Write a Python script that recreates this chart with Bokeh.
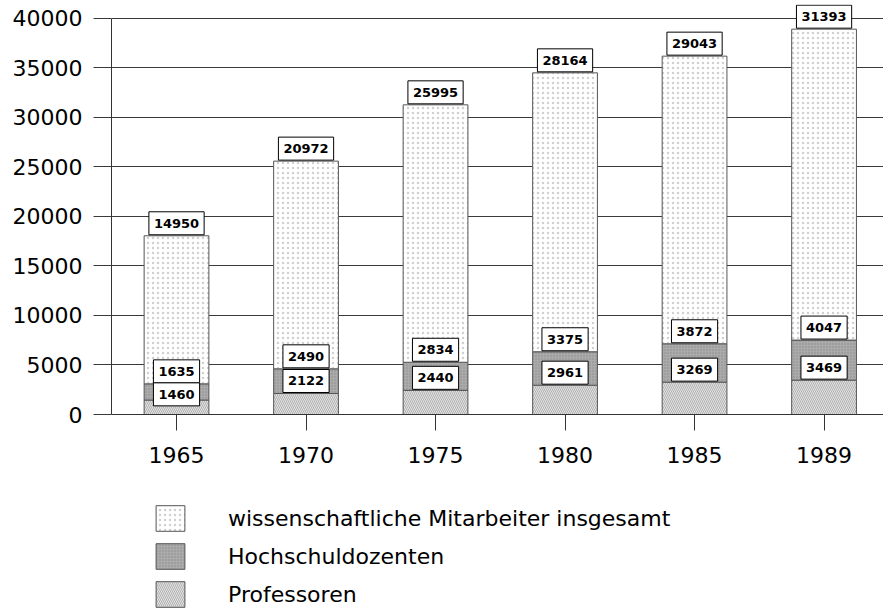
from bokeh.plotting import figure
from bokeh.layouts import column
from bokeh.models import Range1d, FixedTicker, Label, Legend, LegendItem, NumeralTickFormatter
from bokeh.embed import file_html
from bokeh.resources import INLINE

years = ["1965", "1970", "1975", "1980", "1985", "1989"]
professoren = [1460, 2122, 2440, 2961, 3269, 3469]
hochschuldozenten = [1635, 2490, 2834, 3375, 3872, 4047]
mitarbeiter = [14950, 20972, 25995, 28164, 29043, 31393]
y_ticks = [0, 5000, 10000, 15000, 20000, 25000, 30000, 35000, 40000]
series_names = ["wissenschaftliche Mitarbeiter insgesamt", "Hochschuldozenten", "Professoren"]

FONT = "DejaVu Sans"
xs = list(range(len(years)))
top_p = professoren
top_h = [a + b for a, b in zip(professoren, hochschuldozenten)]
top_m = [a + b for a, b in zip(top_h, mitarbeiter)]

STYLES = {
    "p": dict(fill_color="#e2e2e2", hatch_pattern="left_diagonal_line",
              hatch_color="#9c9c9c", hatch_scale=4, hatch_weight=0.7,
              line_color="#555555", line_width=1),
    "h": dict(fill_color="#ababab", hatch_pattern="dot",
              hatch_color="#8a8a8a", hatch_scale=3, hatch_weight=1,
              line_color="#555555", line_width=1),
    "m": dict(fill_color="white", hatch_pattern="dot",
              hatch_color="#d0d0d0", hatch_scale=5, hatch_weight=1,
              line_color="#555555", line_width=1),
}

p = figure(width=883, height=490,
           x_range=Range1d(-0.502, 5.459), y_range=Range1d(0, 41400),
           output_backend="svg", toolbar_location=None,
           min_border=0, min_border_left=111, min_border_top=4,
           min_border_bottom=76, min_border_right=0)
p.outline_line_color = None
p.background_fill_color = "white"

# grid
p.xgrid.visible = False
p.ygrid.ticker = FixedTicker(ticks=y_ticks)
p.ygrid.grid_line_color = "#3a3a3a"
p.ygrid.grid_line_width = 1

# axes
p.yaxis.ticker = FixedTicker(ticks=y_ticks)
p.yaxis.bounds = (y_ticks[0], y_ticks[-1])
p.yaxis.formatter = NumeralTickFormatter(format="0")
p.yaxis.major_tick_out = 18
p.yaxis.major_tick_in = 0
p.yaxis.minor_tick_line_color = None
p.yaxis.major_label_standoff = 11
p.yaxis.axis_line_color = "#333333"
p.yaxis.major_tick_line_color = "#3a3a3a"
p.yaxis.major_label_text_font = FONT
p.yaxis.major_label_text_font_size = "22px"
p.yaxis.major_label_text_color = "black"

p.xaxis.ticker = FixedTicker(ticks=xs)
p.xaxis.major_label_overrides = {i: y for i, y in enumerate(years)}
p.xaxis.major_tick_out = 16
p.xaxis.major_tick_in = 0
p.xaxis.minor_tick_line_color = None
p.xaxis.major_label_standoff = 16
p.xaxis.axis_line_color = "#333333"
p.xaxis.major_tick_line_color = "#333333"
p.xaxis.major_label_text_font = FONT
p.xaxis.major_label_text_font_size = "22px"
p.xaxis.major_label_text_color = "black"

BW = 0.5
p.vbar(x=xs, bottom=0, top=top_p, width=BW, **STYLES["p"])
p.vbar(x=xs, bottom=top_p, top=top_h, width=BW, **STYLES["h"])
p.vbar(x=xs, bottom=top_h, top=top_m, width=BW, **STYLES["m"])

# value labels
box_units = 23 * 41400 / 410.0


def add_label(xv, yv, txt):
    p.add_layout(Label(x=xv, y=yv, text=txt, anchor="bottom_center",
                       text_align="center", text_baseline="middle",
                       text_font=FONT, text_font_size="13px",
                       text_font_style="bold", text_color="black",
                       background_fill_color="white", background_fill_alpha=1,
                       border_line_color="black", border_line_width=1,
                       padding=(5, 7), y_offset=1))


for i in xs:
    add_label(i, top_m[i], str(mitarbeiter[i]))
    add_label(i, top_h[i], str(hochschuldozenten[i]))
    yp = min(top_p[i], top_h[i] - box_units)
    add_label(i, yp, str(professoren[i]))

# legend in a separate strip below the chart (same series, hidden in this strip)
lg = figure(width=883, height=121, x_range=Range1d(100, 101), y_range=Range1d(-200000, -100000),
            output_backend="svg", toolbar_location=None,
            x_axis_location=None, y_axis_location=None,
            min_border=0, min_border_left=0, min_border_right=0,
            min_border_top=0, min_border_bottom=0)
lg.outline_line_color = None
lg.grid.visible = False
lr_m = lg.vbar(x=xs, bottom=top_h, top=top_m, width=BW, **STYLES["m"])
lr_h = lg.vbar(x=xs, bottom=top_p, top=top_h, width=BW, **STYLES["h"])
lr_p = lg.vbar(x=xs, bottom=0, top=top_p, width=BW, **STYLES["p"])
for r in (lr_m, lr_h, lr_p):
    r.visible = False

legend = Legend(items=[LegendItem(label=series_names[0], renderers=[lr_m], index=0),
                       LegendItem(label=series_names[1], renderers=[lr_h], index=0),
                       LegendItem(label=series_names[2], renderers=[lr_p], index=0)],
                location=(41, 1), orientation="vertical",
                glyph_width=36, glyph_height=32, spacing=6,
                label_standoff=40, label_height=32,
                label_text_font=FONT, label_text_font_size="22px",
                label_text_color="black",
                inactive_fill_alpha=0,
                padding=0, margin=0, border_line_alpha=0,
                background_fill_alpha=0)
lg.add_layout(legend)

layout = column(p, lg, spacing=0)
open("out.html", "w").write(file_html(layout, INLINE))
